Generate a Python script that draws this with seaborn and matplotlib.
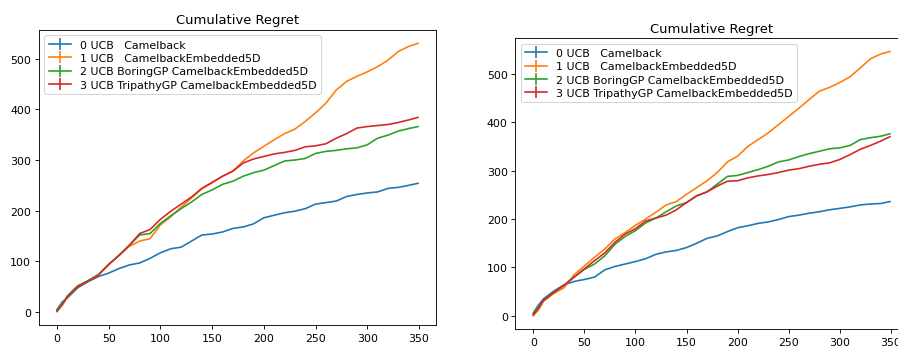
import matplotlib
matplotlib.use("Agg")
import matplotlib.pyplot as plt
from matplotlib.lines import Line2D
import pandas as pd
import seaborn as sns

# Iteration index at which cumulative regret was recorded
steps = [0, 5, 10, 20, 30, 40, 50, 60, 70, 80, 90, 100, 110, 120, 130, 140, 150,
         160, 170, 180, 190, 200, 210, 220, 230, 240, 250, 260, 270, 280, 290,
         300, 310, 320, 330, 340, 349]

labels = ["0 UCB   Camelback",
          "1 UCB   CamelbackEmbedded5D",
          "2 UCB BoringGP CamelbackEmbedded5D",
          "3 UCB TripathyGP CamelbackEmbedded5D"]
colors = ["#1f77b4", "#ff7f0e", "#2ca02c", "#d62728"]

# Run A
a_camelback = [5, 20, 28, 48, 60, 70, 77, 86, 93, 97, 106, 117, 125, 128, 140, 152, 154,
               158, 165, 168, 174, 186, 191, 196, 199, 204, 213, 216, 219, 228, 232,
               235, 237, 244, 246, 250, 254]
a_embedded = [2, 15, 30, 50, 62, 73, 94, 112, 130, 140, 145, 172, 188, 207, 225, 243, 255,
              268, 278, 298, 314, 327, 340, 352, 361, 376, 393, 412, 438, 455, 465,
              474, 484, 497, 514, 524, 530]
a_boring = [1, 15, 32, 52, 62, 74, 94, 112, 132, 152, 155, 175, 190, 204, 217, 232, 241,
            252, 258, 268, 275, 280, 289, 298, 300, 303, 313, 317, 319, 322, 324,
            330, 343, 349, 357, 362, 366]
a_tripathy = [3, 14, 30, 50, 61, 73, 94, 112, 132, 155, 163, 183, 199, 213, 227, 244, 256,
              268, 278, 294, 302, 307, 312, 315, 319, 326, 328, 332, 343, 352, 363,
              366, 368, 370, 374, 379, 384]

# Run B
b_camelback = [6, 22, 35, 51, 64, 71, 75, 80, 95, 102, 107, 112, 118, 127, 132, 135, 141,
               150, 160, 165, 174, 182, 186, 191, 194, 199, 205, 208, 212, 215, 219,
               222, 225, 229, 231, 232, 236]
b_embedded = [0, 12, 30, 46, 58, 85, 103, 121, 138, 159, 172, 187, 200, 214, 229, 236, 251,
              265, 279, 296, 318, 330, 350, 364, 378, 395, 412, 429, 447, 464, 472,
              482, 494, 512, 531, 541, 546]
b_boring = [4, 18, 32, 48, 63, 80, 96, 107, 124, 148, 164, 176, 192, 202, 215, 227, 234,
            248, 256, 272, 288, 290, 296, 302, 309, 318, 322, 329, 335, 340, 345,
            347, 352, 364, 368, 371, 376]
b_tripathy = [2, 15, 32, 48, 63, 80, 97, 114, 130, 152, 169, 180, 196, 202, 208, 219, 234,
              248, 256, 268, 278, 279, 285, 289, 292, 296, 301, 304, 309, 313, 316,
              323, 333, 344, 352, 361, 370]


def frame(series):
    rows = []
    for label, values in zip(labels, series):
        for s, v in zip(steps, values):
            rows.append({"step": s, "regret": v, "method": label})
    return pd.DataFrame(rows)


DPI = 79
fig = plt.figure(figsize=(898 / DPI, 349 / DPI), dpi=DPI)
ax_a = fig.add_axes([0.0434, 0.0659, 0.4421, 0.8453])
ax_b = fig.add_axes([0.5740, 0.0544, 0.4369, 0.8330])

panels = [(ax_a, [a_camelback, a_embedded, a_boring, a_tripathy]),
          (ax_b, [b_camelback, b_embedded, b_boring, b_tripathy])]

handles = [Line2D([], [], color=c, lw=1.5, marker="|", markersize=11,
                  markeredgewidth=1.5) for c in colors]

for ax, series in panels:
    sns.lineplot(data=frame(series), x="step", y="regret", hue="method",
                 hue_order=labels, palette=colors, linewidth=1.5,
                 legend=False, ax=ax)
    ax.set_xlabel("")
    ax.set_ylabel("")
    ax.set_title("Cumulative Regret", fontsize=12)
    ax.set_xticks([0, 50, 100, 150, 200, 250, 300, 350])
    ax.set_yticks([0, 100, 200, 300, 400, 500])
    ax.margins(x=0.05, y=0.05)
    ax.legend(handles, labels, loc="upper left", numpoints=1, fontsize=10,
              labelspacing=0.3)

fig.savefig("out.png", dpi=DPI)
